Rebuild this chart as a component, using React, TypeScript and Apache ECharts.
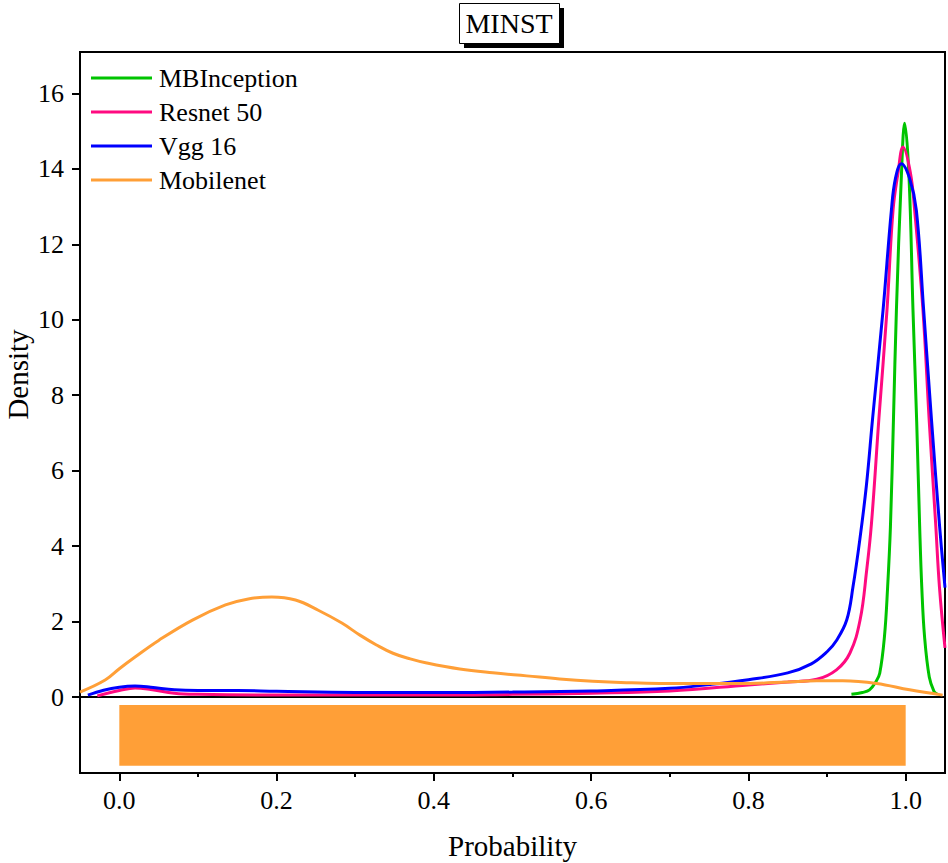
import React, { useEffect, useRef } from "react";
import * as echarts from "echarts";

const seriesNames = ["MBInception", "Resnet 50", "Vgg 16", "Mobilenet"];
const seriesColors = ["#00c400", "#ff0a80", "#0000ff", "#ff9f37"];

const mbInception: number[][] = [
  [0.931, 0.07], [0.945, 0.12], [0.954, 0.19], [0.962, 0.4], [0.967, 0.63],
  [0.973, 1.6], [0.977, 2.9], [0.9806, 4.51], [0.9845, 7.4], [0.9882, 10.25],
  [0.9945, 13.8], [0.9987, 15.21], [1.0042, 13.8], [1.0093, 10.25], [1.014, 7.3],
  [1.0178, 4.51], [1.0205, 2.9], [1.024, 1.6], [1.03, 0.53], [1.036, 0.15], [1.04, 0.08],
];

const resnet50: number[][] = [
  [-0.028, 0.03], [0.0, 0.17], [0.02, 0.24], [0.04, 0.2], [0.07, 0.1], [0.1, 0.07],
  [0.2, 0.05], [0.3, 0.05], [0.4, 0.05], [0.5, 0.07], [0.6, 0.1], [0.7, 0.16],
  [0.8, 0.32], [0.85, 0.4], [0.887, 0.47], [0.912, 0.72], [0.929, 1.16], [0.942, 2.04],
  [0.9504, 3.36], [0.9565, 4.6], [0.966, 7.4], [0.9762, 10.25], [0.9839, 12.9],
  [0.9903, 13.9], [0.9966, 14.58], [1.006, 13.9], [1.0114, 12.9], [1.022, 10.25],
  [1.03, 7.3], [1.0381, 4.6], [1.043, 2.9], [1.05, 1.3],
];

const vgg16: number[][] = [
  [-0.04, 0.05], [-0.02, 0.18], [0.0, 0.26], [0.02, 0.29], [0.04, 0.26], [0.07, 0.19],
  [0.1, 0.17], [0.15, 0.17], [0.2, 0.15], [0.3, 0.12], [0.4, 0.12], [0.5, 0.13],
  [0.6, 0.16], [0.7, 0.23], [0.75, 0.33], [0.8, 0.46], [0.85, 0.64], [0.88, 0.88],
  [0.9, 1.2], [0.912, 1.5], [0.925, 2.04], [0.933, 2.92], [0.9416, 4.16], [0.95, 5.6],
  [0.958, 7.4], [0.9712, 10.25], [0.9818, 12.9], [0.987, 13.75], [0.9945, 14.14],
  [1.005, 13.75], [1.0136, 12.9], [1.0229, 10.25], [1.033, 7.3], [1.0432, 4.51], [1.05, 2.9],
];

const mobilenet: number[][] = [
  [-0.05, 0.13], [-0.018, 0.45], [0.0, 0.75], [0.02, 1.06], [0.05, 1.5], [0.093, 2.04],
  [0.135, 2.44], [0.164, 2.6], [0.194, 2.65], [0.224, 2.57], [0.253, 2.3], [0.283, 1.96],
  [0.306, 1.64], [0.327, 1.38], [0.348, 1.16], [0.37, 1.01], [0.391, 0.9], [0.433, 0.74],
  [0.475, 0.64], [0.518, 0.56], [0.56, 0.48], [0.602, 0.42], [0.645, 0.38], [0.687, 0.36],
  [0.75, 0.36], [0.802, 0.36], [0.85, 0.4], [0.887, 0.43], [0.92, 0.43], [0.963, 0.36],
  [1.005, 0.19], [1.047, 0.05],
];

const rugRange: number[][] = [[0.0, 1.0]];

const xTickLabels = [0.0, 0.2, 0.4, 0.6, 0.8, 1.0];
const xMinorTicks = [0.1, 0.3, 0.5, 0.7, 0.9];
const yTickLabels = [0, 2, 4, 6, 8, 10, 12, 14, 16];

const FONT = "'Liberation Serif', 'Times New Roman', serif";

export default function App() {
  const ref = useRef<HTMLDivElement>(null);
  useEffect(() => {
    if (!ref.current) return;
    const chart = echarts.init(ref.current, null, { renderer: "svg" });
    const allData = [mbInception, resnet50, vgg16, mobilenet];
    const option: any = {
      animation: false,
      backgroundColor: "#ffffff",
      textStyle: { fontFamily: FONT, color: "#000" },
      graphic: [
        { type: "rect", left: 464, top: 8, shape: { width: 100, height: 40 }, style: { fill: "#000" }, z: 10 },
        { type: "rect", left: 459, top: 3, shape: { width: 100, height: 40 }, style: { fill: "#fff", stroke: "#000", lineWidth: 1 }, z: 11 },
        {
          type: "text", x: 509, y: 23, z: 12,
          style: { text: "MINST", font: `28px ${FONT}`, fill: "#000", align: "center", verticalAlign: "middle" },
        },
      ],
      legend: {
        orient: "vertical",
        left: 91,
        top: 65,
        padding: 0,
        icon: "rect",
        itemWidth: 61,
        itemHeight: 3,
        itemGap: 8,
        data: seriesNames,
        textStyle: { fontFamily: FONT, fontSize: 26, color: "#000", lineHeight: 26, padding: [0, 0, 0, 2] },
      },
      grid: [
        { left: 80, right: 3, top: 52, height: 645, outerBoundsMode: "none", containLabel: false, show: true, borderColor: "#000", borderWidth: 2, backgroundColor: "transparent" },
        { left: 80, right: 3, top: 697, height: 76, outerBoundsMode: "none", containLabel: false, show: true, borderColor: "#000", borderWidth: 2, backgroundColor: "transparent" },
      ],
      xAxis: [
        { type: "value", gridIndex: 0, min: -0.05, max: 1.05, show: false },
        {
          type: "value", gridIndex: 1, min: -0.05, max: 1.05, position: "bottom",
          name: "Probability", nameLocation: "middle", nameGap: 58, nameMoveOverlap: false,
          nameTextStyle: { fontFamily: FONT, fontSize: 29, color: "#000" },
          axisLine: { show: true, onZero: false, lineStyle: { color: "#000", width: 2 } },
          axisTick: { show: true, customValues: xTickLabels, length: 8, lineStyle: { color: "#000", width: 2 } },
          axisLabel: {
            customValues: xTickLabels, margin: 14, fontFamily: FONT, fontSize: 26, color: "#000",
            verticalAlign: "top",
            formatter: (v: number) => v.toFixed(1),
          },
          splitLine: { show: false },
        },
        {
          type: "value", gridIndex: 1, min: -0.05, max: 1.05, position: "bottom",
          axisLine: { show: false, onZero: false },
          axisTick: { show: true, customValues: xMinorTicks, length: 4, lineStyle: { color: "#000", width: 2 } },
          axisLabel: { show: false },
          splitLine: { show: false },
        },
      ],
      yAxis: [
        {
          type: "value", gridIndex: 0, min: 0, max: 17.1, position: "left",
          name: "Density", nameLocation: "middle", nameGap: 48, nameRotate: 90, nameMoveOverlap: false,
          nameTextStyle: { fontFamily: FONT, fontSize: 29, color: "#000" },
          axisLine: { show: true, onZero: false, lineStyle: { color: "#000", width: 2 } },
          axisTick: { show: true, customValues: yTickLabels, length: 8, lineStyle: { color: "#000", width: 2 } },
          axisLabel: {
            customValues: yTickLabels, margin: 16, align: "right", verticalAlign: "middle",
            fontFamily: FONT, fontSize: 26, color: "#000",
          },
          splitLine: { show: false },
        },
        { type: "value", gridIndex: 1, min: 0, max: 1, show: false },
      ],
      series: [
        ...allData.map((d, i) => ({
          name: seriesNames[i],
          type: "line",
          xAxisIndex: 0,
          yAxisIndex: 0,
          data: d,
          smooth: 0.4,
          symbol: "none",
          clip: true,
          color: seriesColors[i],
          itemStyle: { color: seriesColors[i] },
          lineStyle: { color: seriesColors[i], width: 3 },
        })),
        {
          type: "custom",
          xAxisIndex: 1,
          yAxisIndex: 1,
          data: rugRange,
          silent: true,
          renderItem: (params: any, api: any) => {
            const p1 = api.coord([api.value(0), 0.895]);
            const p2 = api.coord([api.value(1), 0.095]);
            return {
              type: "rect",
              shape: { x: p1[0], y: p1[1], width: p2[0] - p1[0], height: p2[1] - p1[1] },
              style: { fill: seriesColors[3] },
            };
          },
        },
      ],
    };
    chart.setOption(option);
    return () => chart.dispose();
  }, []);
  return (
    <div
      ref={ref}
      style={{ position: "fixed", left: 0, top: 0, width: 948, height: 863 }}
    />
  );
}
